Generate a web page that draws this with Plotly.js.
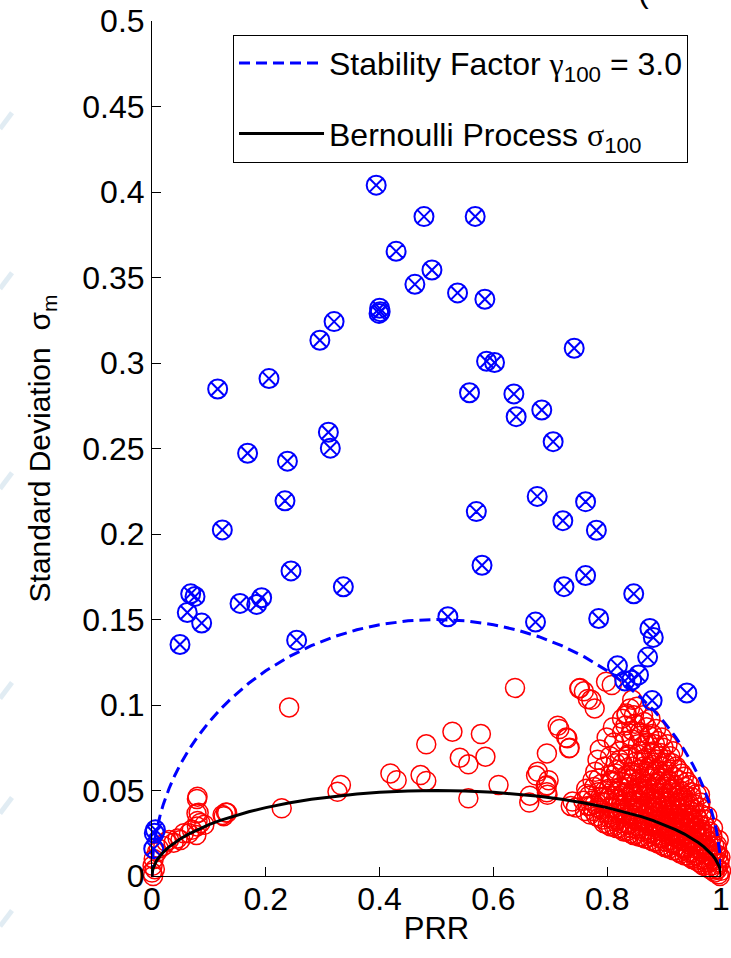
<!DOCTYPE html>
<html>
<head>
<meta charset="utf-8">
<script src="https://cdn.plot.ly/plotly-3.0.1.min.js"></script>
<style>
  html, body { margin: 0; padding: 0; background: #fff; }
  #chart { width: 731px; height: 958px; }
</style>
</head>
<body>
<div id="chart"></div>
<script>
// Links whose spread exceeds the stability bound (gamma * sigma_100)
const unstablePRR = [
  0.394, 0.478, 0.429, 0.492, 0.462, 0.400, 0.401, 0.399, 0.320, 0.295,
  0.1154, 0.2056, 0.310, 0.3134, 0.168, 0.238, 0.2337, 0.1236, 0.2443, 0.3363,
  0.068, 0.0756, 0.1927, 0.1547, 0.184, 0.062, 0.0873, 0.0492, 0.2542,
  0.568, 0.537, 0.585, 0.742, 0.588, 0.602, 0.558, 0.636, 0.640, 0.685,
  0.705, 0.677, 0.762, 0.570, 0.722, 0.781, 0.580, 0.762, 0.724, 0.8466,
  0.520, 0.674, 0.785, 0.875, 0.881, 0.871, 0.818, 0.855, 0.843, 0.831,
  0.879, 0.940, 0.006, 0.004, 0.003
];
const unstableSigma = [
  0.404, 0.3856, 0.3653, 0.3544, 0.346, 0.332, 0.330, 0.329, 0.3242, 0.3133,
  0.2848, 0.2909, 0.2595, 0.2502, 0.2472, 0.2426, 0.2194, 0.2024, 0.1784, 0.1691,
  0.165, 0.1635, 0.1627, 0.1594, 0.1588, 0.1541, 0.1479, 0.1354, 0.1379,
  0.3857, 0.341, 0.3373, 0.3086, 0.301, 0.3003, 0.2826, 0.2819, 0.2686, 0.2725,
  0.254, 0.222, 0.2189, 0.2131, 0.2078, 0.2022, 0.1817, 0.1757, 0.1692, 0.165,
  0.1516, 0.1485, 0.1506, 0.1448, 0.1395, 0.128, 0.1229, 0.1176, 0.1145, 0.1141,
  0.1026, 0.107, 0.027, 0.025, 0.016
];

// Links within the stability bound
const stablePRR = [
  // low-PRR links
  0.000, 0.001, 0.003, 0.009, 0.020, 0.038, 0.056, 0.079, 0.082, 0.079, 0.126, 0.132,
  0.005, 0.002, 0.012, 0.025, 0.030, 0.045, 0.050, 0.065, 0.070, 0.078, 0.085, 0.092,
  // intermediate links
  0.080, 0.0782, 0.080, 0.124, 0.130, 0.228, 0.241, 0.326, 0.332, 0.419, 0.430,
  0.472, 0.482, 0.482, 0.528, 0.578, 0.541, 0.556, 0.586, 0.556, 0.609, 0.638,
  0.664, 0.694, 0.694, 0.678, 0.697, 0.694, 0.713, 0.730, 0.733, 0.739, 0.716,
  0.728, 0.734, 0.675, 0.692, 0.695, 0.663, 0.736, 0.745,
  0.752, 0.759, 0.772, 0.778, 0.798, 0.808, 0.834, 0.840, 0.844, 0.751, 0.766, 0.963,
  // high-PRR links
  0.758, 0.763, 0.761,
  0.772, 0.768, 0.774, 0.770,
  0.781, 0.778, 0.784, 0.779, 0.783,
  0.792, 0.788, 0.795, 0.790, 0.787,
  0.801, 0.804, 0.798, 0.803, 0.806, 0.799,
  0.812, 0.809, 0.814, 0.811, 0.808, 0.815, 0.810,
  0.821, 0.818, 0.824, 0.819, 0.823, 0.817, 0.822, 0.826,
  0.829, 0.833, 0.828, 0.832, 0.830, 0.835, 0.827, 0.831, 0.834,
  0.841, 0.838, 0.843, 0.840, 0.845, 0.839, 0.842, 0.837, 0.844,
  0.849, 0.853, 0.848, 0.852, 0.850, 0.855, 0.847, 0.851, 0.854, 0.849, 0.852,
  0.861, 0.858, 0.863, 0.860, 0.857, 0.862, 0.859, 0.864, 0.860, 0.858, 0.863,
  0.869, 0.872, 0.868, 0.871, 0.874, 0.867, 0.870, 0.873, 0.868, 0.871, 0.869,
  0.881, 0.878, 0.883, 0.879, 0.882, 0.877, 0.884, 0.880, 0.878, 0.882, 0.879,
  0.889, 0.892, 0.888, 0.891, 0.893, 0.887, 0.890, 0.892, 0.888, 0.891, 0.889,
  0.901, 0.898, 0.903, 0.899, 0.902, 0.897, 0.900, 0.904, 0.898, 0.901, 0.899,
  0.909, 0.912, 0.908, 0.911, 0.913, 0.907, 0.910, 0.912, 0.908, 0.911,
  0.921, 0.918, 0.923, 0.919, 0.922, 0.917, 0.920, 0.924, 0.918, 0.921,
  0.929, 0.932, 0.928, 0.931, 0.933, 0.927, 0.930, 0.932, 0.928, 0.931,
  0.941, 0.938, 0.943, 0.939, 0.942, 0.937, 0.940, 0.944, 0.938, 0.941,
  0.949, 0.952, 0.948, 0.951, 0.953, 0.947, 0.950, 0.952, 0.949,
  0.961, 0.958, 0.963, 0.959, 0.962, 0.957, 0.960, 0.963,
  0.969, 0.972, 0.968, 0.971, 0.973, 0.967, 0.970,
  0.981, 0.978, 0.983, 0.979, 0.982, 0.980,
  0.989, 0.992, 0.988, 0.991, 0.993,
  0.998, 1.000, 0.997, 0.999,
  // high-PRR links, second pass
  0.766, 0.764,
  0.776, 0.773, 0.777,
  0.786, 0.783, 0.788, 0.785,
  0.794, 0.797, 0.793, 0.796, 0.795,
  0.806, 0.803, 0.807, 0.804, 0.808, 0.805,
  0.816, 0.813, 0.817, 0.814, 0.818, 0.815, 0.812,
  0.826, 0.823, 0.827, 0.824, 0.828, 0.825, 0.822, 0.826,
  0.834, 0.837, 0.833, 0.836, 0.835, 0.838, 0.834, 0.836, 0.832,
  0.846, 0.843, 0.847, 0.844, 0.848, 0.845, 0.842, 0.846, 0.843, 0.847,
  0.856, 0.853, 0.857, 0.854, 0.858, 0.855, 0.852, 0.856, 0.854, 0.857,
  0.866, 0.863, 0.867, 0.864, 0.868, 0.865, 0.862, 0.866, 0.863, 0.867, 0.865,
  0.876, 0.873, 0.877, 0.874, 0.878, 0.875, 0.872, 0.876, 0.873, 0.877, 0.874, 0.876,
  0.886, 0.883, 0.887, 0.884, 0.888, 0.885, 0.882, 0.886, 0.883, 0.887, 0.884, 0.886,
  0.896, 0.893, 0.897, 0.894, 0.898, 0.895, 0.892, 0.896, 0.893, 0.897, 0.894, 0.896,
  0.906, 0.903, 0.907, 0.904, 0.908, 0.905, 0.902, 0.906, 0.903, 0.907, 0.904, 0.906,
  0.916, 0.913, 0.917, 0.914, 0.918, 0.915, 0.912, 0.916, 0.913, 0.917, 0.914, 0.916,
  0.926, 0.923, 0.927, 0.924, 0.928, 0.925, 0.922, 0.926, 0.923, 0.927, 0.925,
  0.936, 0.933, 0.937, 0.934, 0.938, 0.935, 0.932, 0.936, 0.933, 0.937, 0.935,
  0.946, 0.943, 0.947, 0.944, 0.948, 0.945, 0.942, 0.946, 0.943, 0.947, 0.945,
  0.956, 0.953, 0.957, 0.954, 0.958, 0.955, 0.952, 0.956, 0.953, 0.957,
  0.966, 0.963, 0.967, 0.964, 0.968, 0.965, 0.962, 0.966, 0.964,
  0.976, 0.973, 0.977, 0.974, 0.978, 0.975, 0.972, 0.976,
  0.986, 0.983, 0.987, 0.984, 0.988, 0.985, 0.986,
  0.996, 0.994, 0.997, 0.995, 0.993, 0.996
];
const stableSigma = [
  // low-PRR links
  0.002, 0.006, 0.010, 0.014, 0.0176, 0.0195, 0.025, 0.029, 0.037, 0.045, 0.035, 0.037,
  0.004, 0.000, 0.016, 0.020, 0.021, 0.022, 0.021, 0.025, 0.027, 0.024, 0.031, 0.030,
  // intermediate links
  0.0464, 0.0366, 0.0322, 0.0357, 0.0372, 0.0396, 0.0986, 0.0493, 0.0532, 0.060, 0.056,
  0.059, 0.0556, 0.077, 0.0844, 0.083, 0.0692, 0.0653, 0.0698, 0.0454, 0.0532, 0.110,
  0.047, 0.049, 0.053, 0.061, 0.056, 0.0717, 0.0879, 0.0805, 0.0747, 0.0435, 0.086,
  0.081, 0.075, 0.0587, 0.0526, 0.0475, 0.043, 0.041, 0.040,
  0.110, 0.108, 0.103, 0.098, 0.1136, 0.1117, 0.095, 0.098, 0.103, 0.1096, 0.1035, 0.0475,
  // high-PRR links
  0.044, 0.051, 0.038,
  0.041, 0.047, 0.056, 0.036,
  0.035, 0.042, 0.049, 0.061, 0.068,
  0.033, 0.039, 0.046, 0.054, 0.074,
  0.030, 0.036, 0.043, 0.051, 0.059, 0.081,
  0.029, 0.034, 0.040, 0.047, 0.056, 0.066, 0.087,
  0.028, 0.033, 0.039, 0.045, 0.052, 0.062, 0.073, 0.092,
  0.026, 0.031, 0.037, 0.043, 0.049, 0.057, 0.066, 0.079, 0.094,
  0.025, 0.030, 0.036, 0.042, 0.048, 0.054, 0.061, 0.071, 0.085,
  0.024, 0.029, 0.034, 0.040, 0.046, 0.052, 0.059, 0.067, 0.077, 0.089, 0.099,
  0.023, 0.028, 0.033, 0.039, 0.044, 0.050, 0.057, 0.064, 0.073, 0.082, 0.094,
  0.022, 0.027, 0.032, 0.037, 0.042, 0.048, 0.054, 0.061, 0.069, 0.078, 0.087,
  0.020, 0.025, 0.030, 0.035, 0.040, 0.046, 0.052, 0.058, 0.065, 0.073, 0.083,
  0.019, 0.024, 0.029, 0.033, 0.038, 0.043, 0.049, 0.055, 0.062, 0.070, 0.079,
  0.017, 0.022, 0.027, 0.031, 0.036, 0.041, 0.046, 0.052, 0.059, 0.066, 0.075,
  0.016, 0.021, 0.025, 0.029, 0.034, 0.039, 0.044, 0.049, 0.056, 0.070,
  0.015, 0.019, 0.023, 0.027, 0.032, 0.036, 0.041, 0.047, 0.053, 0.064,
  0.013, 0.017, 0.021, 0.026, 0.030, 0.034, 0.039, 0.044, 0.050, 0.060,
  0.012, 0.016, 0.020, 0.024, 0.028, 0.032, 0.036, 0.041, 0.047, 0.055,
  0.010, 0.014, 0.018, 0.022, 0.026, 0.030, 0.034, 0.039, 0.046,
  0.008, 0.012, 0.016, 0.020, 0.024, 0.028, 0.033, 0.040,
  0.006, 0.010, 0.014, 0.018, 0.022, 0.027, 0.033,
  0.004, 0.008, 0.012, 0.016, 0.020, 0.026,
  0.002, 0.005, 0.009, 0.013, 0.018,
  0.000, 0.003, 0.007, 0.011,
  // high-PRR links, second pass
  0.041, 0.048,
  0.038, 0.044, 0.052,
  0.034, 0.040, 0.046, 0.057,
  0.031, 0.037, 0.043, 0.050, 0.064,
  0.029, 0.034, 0.040, 0.047, 0.055, 0.070,
  0.028, 0.032, 0.037, 0.043, 0.050, 0.060, 0.078,
  0.027, 0.031, 0.036, 0.042, 0.048, 0.055, 0.068, 0.084,
  0.026, 0.030, 0.034, 0.040, 0.046, 0.052, 0.059, 0.070, 0.088,
  0.024, 0.028, 0.033, 0.038, 0.044, 0.050, 0.057, 0.064, 0.080, 0.094,
  0.023, 0.027, 0.032, 0.037, 0.043, 0.049, 0.055, 0.062, 0.071, 0.084,
  0.022, 0.026, 0.031, 0.036, 0.041, 0.047, 0.053, 0.060, 0.068, 0.077, 0.090,
  0.021, 0.025, 0.029, 0.034, 0.039, 0.045, 0.051, 0.057, 0.064, 0.072, 0.082, 0.092,
  0.020, 0.024, 0.028, 0.032, 0.037, 0.043, 0.048, 0.054, 0.061, 0.068, 0.077, 0.086,
  0.018, 0.022, 0.026, 0.030, 0.035, 0.040, 0.045, 0.051, 0.057, 0.064, 0.072, 0.081,
  0.017, 0.020, 0.024, 0.029, 0.033, 0.038, 0.043, 0.048, 0.054, 0.061, 0.068, 0.077,
  0.015, 0.019, 0.023, 0.027, 0.031, 0.036, 0.041, 0.046, 0.051, 0.058, 0.066, 0.073,
  0.014, 0.018, 0.022, 0.025, 0.029, 0.034, 0.038, 0.043, 0.049, 0.056, 0.062,
  0.012, 0.016, 0.020, 0.024, 0.028, 0.032, 0.036, 0.041, 0.046, 0.052, 0.058,
  0.011, 0.014, 0.018, 0.022, 0.026, 0.030, 0.034, 0.038, 0.043, 0.049, 0.053,
  0.009, 0.012, 0.016, 0.020, 0.024, 0.028, 0.032, 0.036, 0.042, 0.048,
  0.007, 0.010, 0.014, 0.018, 0.022, 0.026, 0.030, 0.036, 0.043,
  0.005, 0.008, 0.012, 0.016, 0.020, 0.024, 0.029, 0.035,
  0.003, 0.006, 0.010, 0.014, 0.018, 0.023, 0.028,
  0.001, 0.004, 0.008, 0.012, 0.016, 0.021
];

// Reference curves: Bernoulli standard deviation over 100 packets and its stability bound
const GAMMA_100 = 3.0;
const WINDOW = 100;
const prrGrid = [
  0, 0.0002, 0.0005, 0.001, 0.002, 0.003, 0.005, 0.0075, 0.01, 0.015, 0.02, 0.03,
  0.04, 0.05, 0.065, 0.08, 0.1, 0.12, 0.14, 0.17, 0.2, 0.24, 0.28, 0.32, 0.36,
  0.4, 0.45, 0.5, 0.55, 0.6, 0.64, 0.68, 0.72, 0.76, 0.8, 0.83, 0.86, 0.88, 0.9,
  0.92, 0.935, 0.95, 0.96, 0.97, 0.98, 0.985, 0.99, 0.9925, 0.995, 0.997, 0.998,
  0.999, 0.9995, 0.9998, 1
];
const sigmaBernoulli = prrGrid.map(p => Math.sqrt(p * (1 - p) / WINDOW));
const sigmaStability = sigmaBernoulli.map(s => GAMMA_100 * s);

const xTickVals = [0, 0.2, 0.4, 0.6, 0.8, 1];
const xTickText = ['0', '0.2', '0.4', '0.6', '0.8', '1'];
const yTickVals = [0, 0.05, 0.1, 0.15, 0.2, 0.25, 0.3, 0.35, 0.4, 0.45, 0.5];
const yTickText = ['0', '0.05', '0.1', '0.15', '0.2', '0.25', '0.3', '0.35', '0.4', '0.45', '0.5'];

const FONT = 'Liberation Sans, Arial, Helvetica, sans-serif';
const GREEK = 'font-family:Liberation Serif, Times New Roman, serif';

const traces = [
  {
    x: stablePRR, y: stableSigma, type: 'scatter', mode: 'markers',
    marker: { symbol: 'circle-open', size: 19, color: '#ff0000', line: { width: 1.5, color: '#ff0000' } },
    showlegend: false, cliponaxis: false, hoverinfo: 'x+y'
  },
  {
    x: unstablePRR, y: unstableSigma, type: 'scatter', mode: 'markers',
    marker: { symbol: 'circle-x-open', size: 19, color: '#0000ff', line: { width: 2, color: '#0000ff' } },
    showlegend: false, cliponaxis: false, hoverinfo: 'x+y'
  },
  {
    x: prrGrid, y: sigmaStability, type: 'scatter', mode: 'lines',
    name: 'Stability Factor <span style="' + GREEK + '">γ</span><sub>100</sub> = 3.0',
    line: { color: '#0000ff', width: 3, dash: '11px,6px' },
    legendgroup: 'g1', cliponaxis: false
  },
  {
    x: prrGrid, y: sigmaBernoulli, type: 'scatter', mode: 'lines',
    name: 'Bernoulli Process <span style="' + GREEK + '">σ</span><sub>100</sub>',
    line: { color: '#000000', width: 3 },
    legendgroup: 'g2', cliponaxis: false
  }
];

const axisCommon = {
  ticks: 'inside', ticklen: 9, tickwidth: 1, tickcolor: '#000',
  showline: true, linecolor: '#000', linewidth: 1, mirror: false,
  showgrid: false, zeroline: false,
  tickfont: { family: FONT, size: 32, color: '#000' }
};

// faint pale-blue streaks along the left edge of the canvas (paper coordinates)
const streakRows = [120, 280, 480, 690, 805, 918];
const streaks = streakRows.map(py => ({
  type: 'line', xref: 'paper', yref: 'paper', layer: 'below',
  x0: (0 - 152) / 569, y0: (876.6 - (py + 9)) / 855.5,
  x1: (12 - 152) / 569, y1: (876.6 - (py - 7)) / 855.5,
  line: { color: 'rgba(170,200,220,0.35)', width: 5 }
}));

const layout = {
  width: 731, height: 958,
  margin: { l: 152, r: 10, t: 21, b: 82 },
  paper_bgcolor: '#fff', plot_bgcolor: '#fff',
  font: { family: FONT, color: '#000' },
  xaxis: Object.assign({}, axisCommon, {
    range: [0, 1], tickvals: xTickVals, ticktext: xTickText, ticklabelstandoff: -5,
    title: { text: 'PRR', font: { family: FONT, size: 31, color: '#000' }, standoff: 0 }
  }),
  yaxis: Object.assign({}, axisCommon, {
    range: [0, 0.5], tickvals: yTickVals, ticktext: yTickText,
    title: { text: 'Standard Deviation  σ<sub>m</sub>', font: { family: FONT, size: 30, color: '#000' }, standoff: 22 }
  }),
  legend: {
    x: 0.1424, y: 0.984, xanchor: 'left', yanchor: 'top',
    bgcolor: '#fff', bordercolor: '#000', borderwidth: 1,
    font: { family: FONT, size: 32, color: '#000' },
    tracegroupgap: 26, itemwidth: 85
  },
  showlegend: true,
  shapes: streaks,
  // edge of the figure title, cut off by the top of the canvas
  annotations: [{
    xref: 'paper', yref: 'paper', x: (643 - 152) / 569, y: 1.012,
    xanchor: 'center', yanchor: 'bottom', showarrow: false,
    text: '(', font: { family: FONT, size: 32, color: '#000' }
  }]
};

Plotly.newPlot('chart', traces, layout, { displayModeBar: false, staticPlot: true });
</script>
</body>
</html>
